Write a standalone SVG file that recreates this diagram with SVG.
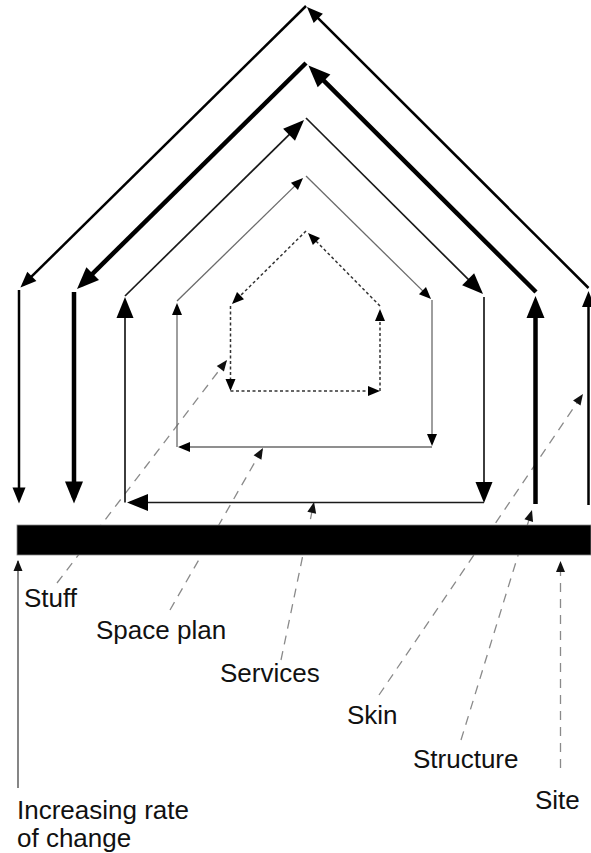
<svg xmlns="http://www.w3.org/2000/svg" width="591" height="853" viewBox="0 0 591 853">
  <style>
    .lbl { font-family: "Liberation Sans", Arial, sans-serif; font-size: 26px; fill: #111; }
    .skin { fill: none; stroke: #000; stroke-width: 2.5; }
    .structure { fill: none; stroke: #000; stroke-width: 4.5; }
    .services { fill: none; stroke: #1a1a1a; stroke-width: 1.7; }
    .spaceplan { fill: none; stroke: #6a6a6a; stroke-width: 1.3; }
    .stuff { fill: none; stroke: #333; stroke-width: 1.5; stroke-dasharray: 3 2.5; }
    .leader { fill: none; stroke: #8a8a8a; stroke-width: 1.3; stroke-dasharray: 9 7; }
    .axis { fill: none; stroke: #444; stroke-width: 1.3; }
  </style>
  <defs>
    <!-- arrowheads: tip at (0,0), pointing along +x; refX<0 pushes the tip past the path end -->
    <marker id="a-skin" markerUnits="userSpaceOnUse" viewBox="-20 -10 20 20" markerWidth="20" markerHeight="20" refX="-4" refY="0" orient="auto" overflow="visible">
      <path d="M0,0 L-16,-6.5 L-16,6.5 Z" fill="#000"/>
    </marker>
    <marker id="a-structure" markerUnits="userSpaceOnUse" viewBox="-24 -12 24 24" markerWidth="24" markerHeight="24" refX="-6" refY="0" orient="auto" overflow="visible">
      <path d="M0,0 L-22,-9 L-22,9 Z" fill="#000"/>
    </marker>
    <marker id="a-services" markerUnits="userSpaceOnUse" viewBox="-24 -12 24 24" markerWidth="24" markerHeight="24" refX="-3" refY="0" orient="auto" overflow="visible">
      <path d="M0,0 L-21,-8.5 L-21,8.5 Z" fill="#000"/>
    </marker>
    <marker id="a-small" markerUnits="userSpaceOnUse" viewBox="-14 -7 14 14" markerWidth="14" markerHeight="14" refX="-2" refY="0" orient="auto" overflow="visible">
      <path d="M0,0 L-12,-5 L-12,5 Z" fill="#000"/>
    </marker>
    <marker id="a-leader" markerUnits="userSpaceOnUse" viewBox="-14 -7 14 14" markerWidth="14" markerHeight="14" refX="-1" refY="0" orient="auto" overflow="visible">
      <path d="M0,0 L-11,-4.5 L-11,4.5 Z" fill="#111"/>
    </marker>
  </defs>

  <!-- leader lines from the labels to their layers -->
  <g id="connectors">
    <path class="leader" d="M57,583 L226.4,360.8" marker-end="url(#a-leader)"/>
    <path class="leader" d="M170,610 L262.5,448.9" marker-end="url(#a-leader)"/>
    <path class="leader" d="M281,660 L313.8,503" marker-end="url(#a-leader)"/>
    <path class="leader" d="M379,695 L582.4,394.8" marker-end="url(#a-leader)"/>
    <path class="leader" d="M461,740 L531.7,511" marker-end="url(#a-leader)"/>
    <path class="leader" d="M560.5,768 L560.5,562" marker-end="url(#a-leader)"/>
    <path class="axis" d="M18,788 L18,561" marker-end="url(#a-leader)"/>
  </g>

  <!-- site: the ground bar -->
  <g id="site">
    <rect x="17" y="525" width="574" height="30" fill="#000" stroke="#888" stroke-width="0.8"/>
  </g>

  <!-- skin: outermost house outline -->
  <g id="skin">
    <path class="skin" d="M588.5,288 L309.8,9.8" marker-end="url(#a-skin)"/>
    <path class="skin" d="M306,6 L23.3,284.7" marker-end="url(#a-skin)"/>
    <path class="skin" d="M19,290 L19,499.5" marker-end="url(#a-skin)"/>
    <path class="skin" d="M588.5,505 L588.5,295" marker-end="url(#a-skin)"/>
  </g>

  <!-- structure: heavy outline -->
  <g id="structure">
    <path class="structure" d="M536,292 L312.7,69.7" marker-end="url(#a-structure)"/>
    <path class="structure" d="M306,63 L81.3,284.8" marker-end="url(#a-structure)"/>
    <path class="structure" d="M74,292 L74,497.5" marker-end="url(#a-structure)"/>
    <path class="structure" d="M535.5,504 L535.5,302" marker-end="url(#a-structure)"/>
  </g>

  <!-- services -->
  <g id="services">
    <path class="services" d="M125,296 L301.9,122.1" marker-end="url(#a-services)"/>
    <path class="services" d="M306,118 L480.9,291.9" marker-end="url(#a-services)"/>
    <path class="services" d="M484,297 L484,500" marker-end="url(#a-services)"/>
    <path class="services" d="M484,502.5 L130,502.5" marker-end="url(#a-services)"/>
    <path class="services" d="M125,502.5 L125,300" marker-end="url(#a-services)"/>
  </g>

  <!-- space plan -->
  <g id="space-plan">
    <path class="spaceplan" d="M177,301 L301.6,179.4" marker-end="url(#a-small)"/>
    <path class="spaceplan" d="M306,176 L429.6,297.6" marker-end="url(#a-small)"/>
    <path class="spaceplan" d="M432,300 L432,444" marker-end="url(#a-small)"/>
    <path class="spaceplan" d="M432,447 L180,447" marker-end="url(#a-small)"/>
    <path class="spaceplan" d="M177,447 L177,305" marker-end="url(#a-small)"/>
  </g>

  <!-- stuff: dotted innermost outline -->
  <g id="stuff">
    <path class="stuff" d="M380,306 L309.4,234.4" marker-end="url(#a-small)"/>
    <path class="stuff" d="M306,231 L233.4,302.6" marker-end="url(#a-small)"/>
    <path class="stuff" d="M230.5,306 L230.5,389" marker-end="url(#a-small)"/>
    <path class="stuff" d="M230.5,391 L378,391" marker-end="url(#a-small)"/>
    <path class="stuff" d="M380,391 L380,311" marker-end="url(#a-small)"/>
  </g>

  <!-- labels -->
  <g id="label-stuff"><text class="lbl" x="24" y="607">Stuff</text></g>
  <g id="label-space-plan"><text class="lbl" x="96" y="639">Space plan</text></g>
  <g id="label-services"><text class="lbl" x="220" y="682">Services</text></g>
  <g id="label-skin"><text class="lbl" x="347" y="724">Skin</text></g>
  <g id="label-structure"><text class="lbl" x="413" y="768">Structure</text></g>
  <g id="label-site"><text class="lbl" x="535" y="809">Site</text></g>
  <g id="label-rate"><text class="lbl" x="17" y="819">Increasing rate</text><text class="lbl" x="17" y="847">of change</text></g>
</svg>
